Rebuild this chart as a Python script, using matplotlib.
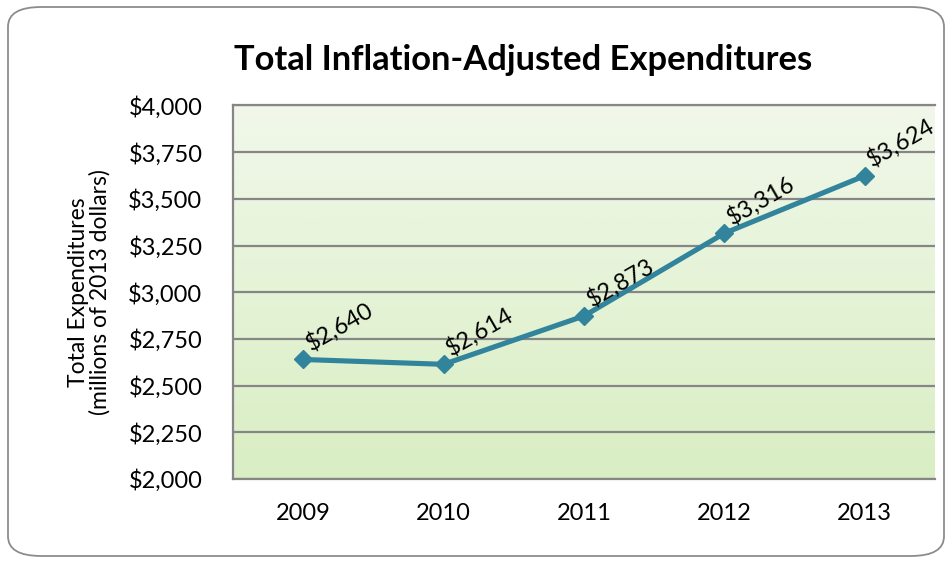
import matplotlib
matplotlib.use("Agg")
import matplotlib.pyplot as plt
import numpy as np
from matplotlib.patches import FancyBboxPatch
from matplotlib.colors import LinearSegmentedColormap

years = ["2009", "2010", "2011", "2012", "2013"]
values = [2640, 2614, 2873, 3316, 3624]
labels = ["$2,640", "$2,614", "$2,873", "$3,316", "$3,624"]
yticks = [2000, 2250, 2500, 2750, 3000, 3250, 3500, 3750, 4000]
ytick_labels = ["$2,000", "$2,250", "$2,500", "$2,750", "$3,000", "$3,250", "$3,500", "$3,750", "$4,000"]

plt.rcParams['font.family'] = ['Lato', 'DejaVu Sans']

fig = plt.figure(figsize=(9.51, 5.62), dpi=100)
W, H = 951, 562

# rounded outer border
border = FancyBboxPatch((8 / W, 6 / H), (944 - 8) / W, (555 - 6) / H,
                        boxstyle="round,pad=0,rounding_size=0.035",
                        transform=fig.transFigure, facecolor="white",
                        edgecolor="#8c8c8c", linewidth=1.3, zorder=-5)
fig.patches.append(border)

left, right, top, bottom = 233, 935, 105.5, 479
ax = fig.add_axes([left / W, 1 - bottom / H, (right - left) / W, (bottom - top) / H])
ax.set_zorder(2)
ax.set_facecolor("none")

# gradient background
cmap = LinearSegmentedColormap.from_list("g", ["#d9eec3", "#f1f8ea"])
grad = np.linspace(0, 1, 256).reshape(-1, 1)
ax.imshow(grad, extent=[-0.5, 4.5, 2000, 4000], origin="lower", aspect="auto",
          cmap=cmap, zorder=0)

x = np.arange(len(years))
ax.set_xlim(-0.5, 4.5)
ax.set_ylim(2000, 4000)
ax.set_yticks(yticks)
ax.set_yticklabels(ytick_labels)
ax.set_xticks(x)
ax.set_xticklabels(years)
ax.yaxis.grid(True, color="#868686", linewidth=1.6, zorder=1)
ax.set_axisbelow(True)
ax.tick_params(axis="both", length=0, labelsize=17, colors="black")
ax.tick_params(axis="y", pad=22)
ax.tick_params(axis="x", pad=17)
ax.spines["right"].set_visible(False)
for s in ["left", "bottom", "top"]:
    ax.spines[s].set_color("#868686")
    ax.spines[s].set_linewidth(1.6)

ax.plot(x, values, color="#31849b", linewidth=3.7, marker="D", markersize=9.5,
        markerfacecolor="#31849b", markeredgecolor="#31849b", zorder=3)

for xi, v, lab in zip(x, values, labels):
    ax.annotate(lab, (xi, v), xytext=(26, 24), textcoords="offset points",
                ha="center", va="center", rotation=30, fontsize=17,
                rotation_mode="anchor", zorder=4)

ax.set_ylabel("Total Expenditures\n(millions of 2013 dollars)", fontsize=16.5,
              linespacing=1.0)
ax.yaxis.set_label_coords(-0.175, 0.5)

fig.text(523 / W, 1 - 60 / H, "Total Inflation-Adjusted Expenditures",
         ha="center", va="center", fontsize=24.8, fontweight="bold")

fig.savefig("out.png", dpi=100)
